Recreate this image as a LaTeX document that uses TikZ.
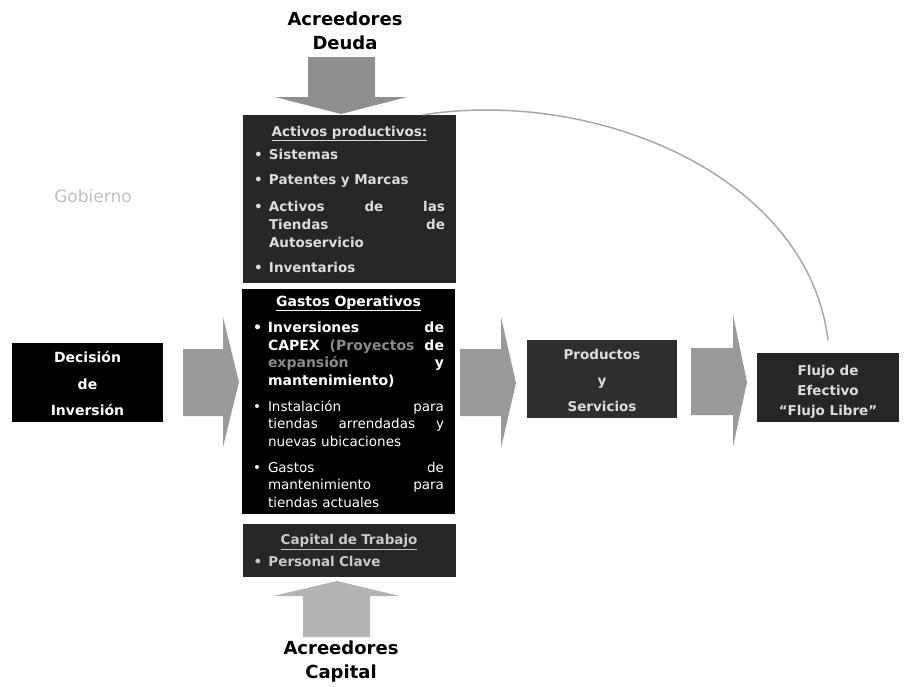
\documentclass[tikz,border=0pt]{standalone}
\usepackage{fontspec}
\setmainfont{DejaVu Sans}
\definecolor{arrA}{HTML}{9A9A9A}
\definecolor{arrD}{HTML}{8F8F8F}
\definecolor{arrU}{HTML}{B4B4B4}
\definecolor{boxA}{HTML}{262626}
\definecolor{boxP}{HTML}{2E2E2E}
\definecolor{txtL}{HTML}{DCDCDC}
\definecolor{txtC}{HTML}{C8C8C8}
\definecolor{gp}{HTML}{8A8A8A}
\definecolor{curveg}{HTML}{A8A8A8}
\newcommand{\bl}{\makebox[15pt][l]{\textbullet}}
\newcommand{\ind}{\hspace*{15pt}}
\newcommand{\ctr}[1]{\hspace*{\fill}#1\hspace*{\fill}\null}
\tikzset{
  darkbox/.style={rectangle, draw=none, inner sep=0pt, font=\bfseries},
  listbox/.style={darkbox, text width=191pt, inner xsep=11pt, align=left},
  title/.style={font=\bfseries\fontsize{18}{24}\selectfont, align=center, inner sep=0pt},
  curvecon/.style={draw=curveg, line width=1.5pt}
}
\begin{document}
\begin{tikzpicture}[x=1pt,y=-1pt]
\useasboundingbox (0,0) rectangle (904,686);

% titles
\node[title] (deuda) at (345,31) {Acreedores\\Deuda};
\node[title] (capital) at (341,661.5) {Acreedores\\Capital};
\node[font=\fontsize{17}{20}\selectfont, text=gray!50, inner sep=0pt] (gob) at (93,196) {Gobierno};

% block arrows
\fill[arrD] (308,57) -- (375,57) -- (375,97) -- (407,97) -- (341,114) -- (275,97) -- (308,97) -- cycle;
\fill[arrU] (303,637) -- (303,596) -- (273,596) -- (337,581) -- (400,596) -- (370,596) -- (370,637) -- cycle;
\fill[arrA] (183,349) -- (223,349) -- (223,317) -- (239,382) -- (223,447) -- (223,416) -- (183,416) -- cycle;
\fill[arrA] (460,349) -- (501,349) -- (501,317) -- (516,383) -- (501,448) -- (501,416) -- (460,416) -- cycle;
\fill[arrA] (691,348) -- (733,348) -- (733,315) -- (747,382) -- (733,447) -- (733,415) -- (691,415) -- cycle;

% boxes
\node[listbox, fill=boxA, text=txtL, minimum height=168pt,
      font=\bfseries\fontsize{13.5}{18}\selectfont] (activos) at (349.5,199) {%
\ctr{\underline{Activos productivos:}}\\[5pt]
\bl Sistemas\\[7pt]
\bl Patentes y Marcas\\[9pt]
\bl Activos\hfill de\hfill las\\
\ind Tiendas\hfill de\\
\ind Autoservicio\\[7pt]
\bl Inventarios};

\node[listbox, fill=black, text=white, minimum height=225pt,
      font=\fontsize{13.5}{17.5}\selectfont] (gastos) at (348.5,401.5) {%
\bfseries\fontsize{14}{17.5}\selectfont
\ctr{\underline{Gastos Operativos}}\\[9pt]
\bl Inversiones\hfill de\\
\ind CAPEX\hfill {\color{gp}(Proyectos}\hfill de\\
\ind {\color{gp}expansión}\hfill y\\
\ind mantenimiento)\\[8.5pt]
\mdseries\fontsize{13.5}{17.5}\selectfont
\bl Instalación\hfill para\\
\ind tiendas\hfill arrendadas\hfill y\\
\ind nuevas ubicaciones\\[8.5pt]
\bl Gastos\hfill de\\
\ind mantenimiento\hfill para\\
\ind tiendas actuales};

\node[listbox, fill=boxA, text=txtC, minimum height=53pt,
      font=\bfseries\fontsize{12.5}{16}\selectfont] (trabajo) at (349,550.5) {%
\ctr{\fontsize{13.5}{16}\selectfont\underline{Capital de Trabajo}}\\[6pt]
\bl Personal Clave};

\node[darkbox, fill=black, text=white, minimum width=151pt, minimum height=79pt,
      align=center, font=\bfseries\fontsize{14}{26.5}\selectfont] (decision) at (87.5,382.5)
      {\rule{0pt}{14pt}Decisión\\de\\Inversión};

\node[darkbox, fill=boxP, text=txtL, minimum width=150pt, minimum height=78pt,
      align=center, font=\bfseries\fontsize{13.5}{26}\selectfont] (productos) at (602,379)
      {\rule{0pt}{14pt}Productos\\y\\Servicios};

\node[darkbox, fill=boxA, text=txtL, minimum width=142pt, minimum height=69pt,
      align=center, font=\bfseries\fontsize{13.5}{20}\selectfont] (flujo) at (828,387.5)
      {\rule{0pt}{18pt}Flujo de\\Efectivo\\“Flujo Libre”};

% feedback curve
\coordinate (cs) at ([yshift=12.5pt]flujo.north);
\draw[curvecon] (cs) .. controls (808,175) and (595,88) .. ([xshift=-33pt]activos.north east);
\end{tikzpicture}
\end{document}
